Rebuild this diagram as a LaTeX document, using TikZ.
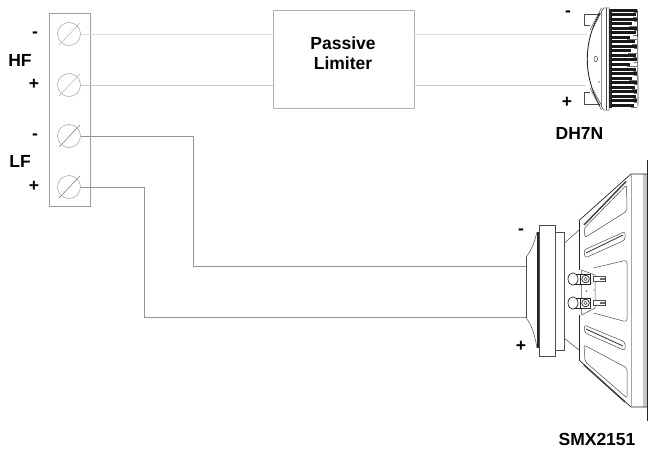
\documentclass[tikz,border=0pt]{standalone}
\usepackage{fontspec}
\usetikzlibrary{calc}
\setmainfont{Liberation Sans}
\begin{document}
\begin{tikzpicture}[x=1pt,y=-1pt,
  lab/.style={font=\bfseries\fontsize{#1}{#1}\selectfont,inner sep=0pt,text=black},
  lab/.default=17.5,
  screw/.style={circle,draw=black!38,line width=.5pt,minimum size=23pt,inner sep=0pt},
  wirepale/.style={draw=black!13,line width=.8pt},
  wiremid/.style={draw=black!22,line width=.7pt},
  wiredark/.style={draw=black!42,line width=.5pt},
  ol/.style={draw=black!70,line width=.5pt},
  ok/.style={draw=black!85,line width=.7pt}]
\useasboundingbox (0,0) rectangle (650,452);
% terminal strip
\node[draw=black!38,line width=.6pt,minimum width=41pt,minimum height=193pt,inner sep=0pt] (strip) at (69.5,109.5) {};
\foreach \n/\y/\c in {t1/34/30,t2/85/30,t3/136/55,t4/187/55}{
  \node[screw] (\n) at (69,\y) {};
  \draw[draw=black!\c,line width=.5pt] ($(\n)+(-10,11)$) -- ($(\n)+(11,-11)$);
}
% limiter
\node[draw=black!30,line width=.6pt,minimum width=141pt,minimum height=98pt,inner sep=0pt] (lim) at (343.5,59.5) {};
\node[lab=17.5] (limtxt1) at (343,43) {Passive};
\node[lab=17.5] (limtxt2) at (343,63.5) {Limiter};
% wire ends
\coordinate (hfm) at (587,34);
\coordinate (hfp) at (585,85);
\coordinate (lfm) at (526,266);
\coordinate (lfp) at (526,317);
\coordinate (lfmb) at (193,136);
\coordinate (lfpb) at (144,187);
\draw[wirepale] (t1.east) -- (t1.east -| lim.west);
\draw[wiremid] (t2.east) -- (t2.east -| lim.west);
\draw[wirepale] (lim.east |- hfm) -- (hfm);
\draw[wiremid] (lim.east |- hfp) -- (hfp);
\draw[wiredark] (t3.east) -- (lfmb) -- (lfmb |- lfm) -- (lfm);
\draw[wiredark] (t4.east) -- (lfpb) -- (lfpb |- lfp) -- (lfp);
% labels left
\node[lab] at (35,34.5) {-};
\node[lab] (hf) at (20,60) {HF};
\node[lab] at (34,84.5) {+};
\node[lab] at (35,136.5) {-};
\node[lab] (lf) at (20,161) {LF};
\node[lab] at (34,186) {+};
% compression driver
\draw[ol,line width=.7pt] (600,14) -- (584.5,14) -- (584.5,25) -- (590,25);
\draw[ol,line width=.7pt] (600,104) -- (584.5,104) -- (584.5,92.5) -- (590,92.5);
\draw[ok,line width=.9pt] (600,13) .. controls (583,42) and (583,76) .. (600,106);
\draw[ol] (601.5,8) -- (590,30) (592,30) -- (603,9);
\draw[ol] (601.5,110) -- (590,88) (592,88) -- (603,108);
\draw[ol] (595.7,59) ellipse (1.8 and 2.8);
\fill[black!55] (599,82) circle (.9);
\draw[ol,fill=white] (601.5,11) -- (604,8) -- (609,8) -- (609,110) -- (604,110) -- (601.5,107) -- cycle;
\draw[ol] (606,8) -- (606,110);
\fill[black!85] (609,9) rectangle (612,108);
\foreach \y/\e in {10.5/637,15/636,19.5/637,24/632,28.5/637,33/636,37.5/630,42/635,46.5/637,51/631,55.5/636,60/637,64.5/630,69/636,73.5/637,78/632,82.5/637,87/635,91.5/637,96/636,100.5/637,105/634}{
  \draw[black!90,line width=3pt] (611,\y) -- (\e,\y);
  \draw[black!55,line width=1.2pt] (\e-3,\y+2.2) -- (637,\y+2.2);
}
\draw[black!70,line width=.8pt] (637.5,10) -- (638,106);
\node[lab] (m1) at (568,14) {-};
\node[lab] at (567,102) {+};
\node[lab] (dh) at (579.5,133) {DH7N};
% woofer magnet
\draw[ol] (526,257) -- (526,318);
\draw[ol] (526,257) .. controls (532,250) and (535,240) .. (537,232);
\draw[ol] (526,318) .. controls (532,325) and (535,336) .. (537,348);
\fill[black!85] (536.5,232) rectangle (539.5,348);
\draw[ol] (539.5,225) rectangle (555.7,356.5);
\draw[ol] (555.7,232) rectangle (564,350);
\draw[ol] (564,243.5) -- (579,230);
\draw[ol] (564,338) -- (579,350);
% basket
\draw[ok] (647,160) -- (647,421);
\fill[black!22] (643,174) rectangle (646.5,407);
\draw[ok] (579,220.5) -- (631,174) -- (647,174);
\draw[ok] (579,360) -- (631,407) -- (647,407);
\draw[ok] (579,220.5) -- (579,270);
\draw[ok] (579,315) -- (579,360);
\draw[draw=black!35,line width=.5pt] (631,174) -- (631,407);
% windows
\draw[ol,rounded corners=2pt] (584,228.5) -- (626.5,185) -- (627,211) -- (585,237.5) -- cycle;
\draw[black!75,line width=1.4pt] (584,225) -- (626,181.5);
\draw[ol,rounded corners=2.5pt] (584,250) -- (625,231.5) -- (625,240) -- (585,258) -- cycle;
\draw[black!75,line width=.9pt] (586,253) -- (623,235);
\draw[ol,rounded corners=3pt] (593.5,268) -- (627,260) -- (627,322) -- (593.5,313);
\draw[ol,rounded corners=2.5pt] (584,325) -- (625,342) -- (625,350.5) -- (585,333) -- cycle;
\draw[black!75,line width=.9pt] (586,329) -- (623,346);
\draw[ol,rounded corners=2pt] (584,345) -- (627,368) -- (627,398) -- (585,361.5) -- cycle;
\draw[black!75,line width=1.4pt] (584,365) -- (625,402);
% terminal plate
\draw[ol,fill=white] (581.5,270) -- (595,275) -- (595,308) -- (581.5,315) -- cycle;
\foreach \y in {279,303}{
  \draw[ol,fill=white] (593,\y-2.5) rectangle (605,\y+2.5);
  \fill[black!60] (600,\y-1) rectangle (604.5,\y+1);
  \draw[ok,fill=white] (575,\y-5) rectangle (590,\y+5);
  \draw[ok] (585.5,\y) circle (3.8);
  \draw[ol] (585.5,\y) circle (1.8);
  \draw[ok] (580,\y-5.5) -- (580,\y+5.5);
  \draw[ok,fill=white] (573,\y) ellipse (5 and 6.2);
}
\fill[black!60] (586.5,291) circle (.8) (594,290) circle (.6) (592,283) circle (.6);
\node[lab] at (521,231.5) {-};
\node[lab] at (521,346.5) {+};
\node[lab] (sm) at (597,439) {SMX2151};
\end{tikzpicture}
\end{document}
